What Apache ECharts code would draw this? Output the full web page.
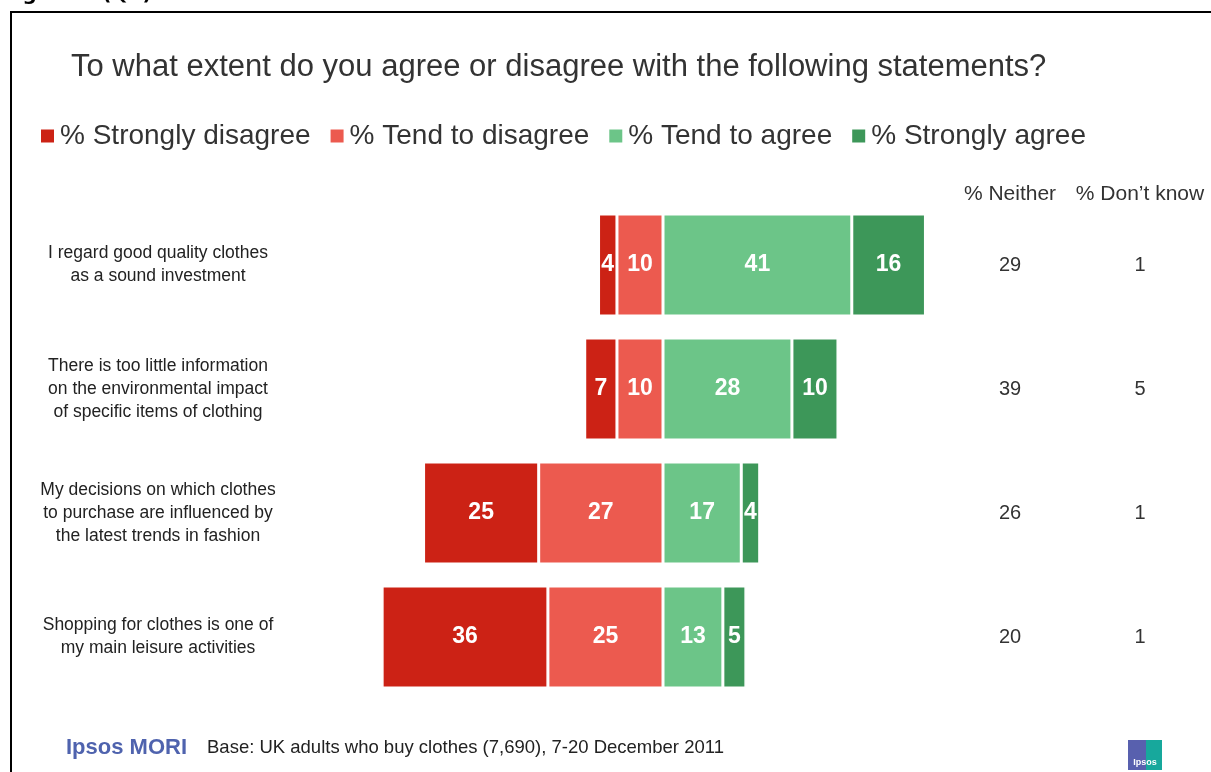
<!DOCTYPE html>
<html>
<head>
<meta charset="utf-8">
<script src="https://cdn.jsdelivr.net/npm/echarts@6/dist/echarts.min.js"></script>
<style>
html, body { margin: 0; padding: 0; background: #fff; }
#main { width: 1211px; height: 772px; }
</style>
</head>
<body>
<div id="main"></div>
<script>
var statements = [
    'I regard good quality clothes\nas a sound investment',
    'There is too little information\non the environmental impact\nof specific items of clothing',
    'My decisions on which clothes\nto purchase are influenced by\nthe latest trends in fashion',
    'Shopping for clothes is one of\nmy main leisure activities'
];
var stronglyDisagree = [4, 7, 25, 36];
var tendDisagree = [10, 10, 27, 25];
var tendAgree = [41, 28, 17, 13];
var stronglyAgree = [16, 10, 4, 5];
var neither = [29, 39, 26, 20];
var dontKnow = [1, 5, 1, 1];

var colors = {
    sd: '#CC2215',
    td: '#EC5A4F',
    ta: '#6CC588',
    sa: '#3D9759'
};

function neg(arr) {
    return arr.map(function (v) { return -v; });
}

function barSeries(name, data, color) {
    return {
        name: name,
        type: 'bar',
        stack: 'total',
        barWidth: 102,
        data: data,
        itemStyle: { color: color, borderColor: '#fff', borderWidth: 1.5 },
        label: {
            show: true,
            position: 'inside',
            color: '#fff',
            fontSize: 23,
            fontWeight: 'bold',
            fontFamily: 'Liberation Sans, Arial, sans-serif',
            formatter: function (p) { return Math.abs(p.value); }
        }
    };
}

var myChart = echarts.init(document.getElementById('main'));

var option = {
    animation: false,
    textStyle: { fontFamily: 'Liberation Sans, Arial, sans-serif' },
    title: {
        text: 'To what extent do you agree or disagree with the following statements?',
        left: 66,
        top: 47,
        textStyle: { fontSize: 31, fontWeight: 'normal', color: '#333' }
    },
    legend: {
        data: ['% Strongly disagree', '% Tend to disagree', '% Tend to agree', '% Strongly agree'],
        left: 34,
        top: 117,
        icon: 'rect',
        itemWidth: 15,
        itemHeight: 15,
        itemGap: 18,
        textStyle: { fontSize: 28, color: '#333' }
    },
    grid: { left: 343, right: 228, top: 203, height: 496 },
    xAxis: {
        type: 'value',
        min: -69.5,
        max: 69.5,
        show: false
    },
    yAxis: [
        {
            type: 'category',
            inverse: true,
            data: statements,
            axisLine: { show: false },
            axisTick: { show: false },
            axisLabel: {
                margin: 185,
                align: 'center',
                fontSize: 17.5,
                lineHeight: 23,
                color: '#222'
            }
        },
        {
            type: 'category',
            inverse: true,
            position: 'right',
            data: neither.map(String),
            axisLine: { show: false },
            axisTick: { show: false },
            axisLabel: { margin: 27, align: 'center', fontSize: 20, color: '#333' }
        },
        {
            type: 'category',
            inverse: true,
            position: 'right',
            data: dontKnow.map(String),
            axisLine: { show: false },
            axisTick: { show: false },
            axisLabel: { margin: 157, align: 'center', fontSize: 20, color: '#333' }
        }
    ],
    series: [
        barSeries('% Tend to disagree', neg(tendDisagree), colors.td),
        barSeries('% Strongly disagree', neg(stronglyDisagree), colors.sd),
        barSeries('% Tend to agree', tendAgree, colors.ta),
        barSeries('% Strongly agree', stronglyAgree, colors.sa)
    ],
    graphic: [
        // frame
        { type: 'rect', shape: { x: 11, y: 12, width: 1400, height: 900 },
          style: { fill: 'none', stroke: '#000', lineWidth: 2 } },
        { type: 'text', left: 2, top: -15,
          style: { text: 'Figure 8 (Q9)', fontSize: 20, fontWeight: 'bold', fill: '#000', fontFamily: 'DejaVu Sans, sans-serif' } },
        // column headers
        { type: 'text', x: 1010, y: 194,
          style: { text: '% Neither', fontSize: 21, fill: '#333', align: 'center', verticalAlign: 'middle' } },
        { type: 'text', x: 1140, y: 194,
          style: { text: '% Don\u2019t know', fontSize: 21, fill: '#333', align: 'center', verticalAlign: 'middle' } },
        // footer
        { type: 'text', x: 66, y: 748,
          style: { text: 'Ipsos MORI', fontSize: 22, fontWeight: 'bold', fill: '#4F63AE', verticalAlign: 'middle',
                   fontFamily: 'Liberation Sans Narrow, Arial Narrow, sans-serif' } },
        { type: 'text', x: 207, y: 748,
          style: { text: 'Base: UK adults who buy clothes (7,690), 7-20 December 2011', fontSize: 18.5, fill: '#222', verticalAlign: 'middle' } },
        // logo
        { type: 'rect', shape: { x: 1128, y: 740, width: 18, height: 30 }, style: { fill: '#5860AE' } },
        { type: 'rect', shape: { x: 1146, y: 740, width: 16, height: 30 }, style: { fill: '#17A89C' } },
        { type: 'text', x: 1145, y: 763,
          style: { text: 'Ipsos', fontSize: 9, fontWeight: 'bold', fill: '#fff', align: 'center', verticalAlign: 'middle' } }
    ]
};

myChart.setOption(option);
</script>
</body>
</html>
